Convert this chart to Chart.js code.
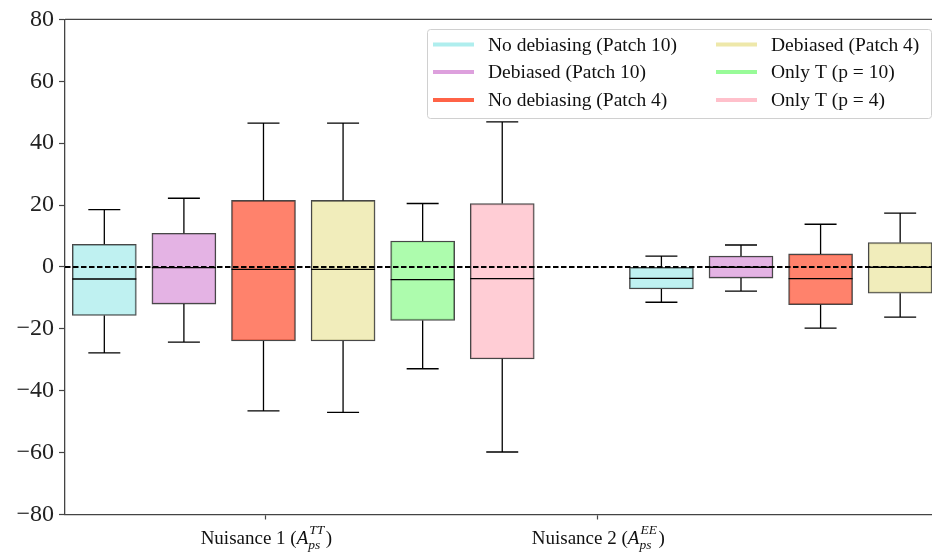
<!DOCTYPE html>
<html>
<head>
<meta charset="utf-8">
<script src="https://cdn.jsdelivr.net/npm/chart.js@4.4.1/dist/chart.umd.min.js"></script>
<style>
  html, body { margin: 0; padding: 0; background: #fff; overflow: hidden; }
  #wrap { width: 932px; height: 557px; position: relative; }
</style>
</head>
<body>
<div id="wrap"><canvas id="boxChart"></canvas></div>
<script>
// Категории по оси X и их позиции
const categories = ['Nuisance 1', 'Nuisance 2'];
const categorySymbols = ['TT', 'EE'];
const xTickPositions = [2.03, 6.2];

// Серии (по одной коробке в каждой группе)
const seriesNames = [
    'No debiasing (Patch 10)',
    'Debiased (Patch 10)',
    'No debiasing (Patch 4)',
    'Debiased (Patch 4)',
    'Only T (p = 10)',
    'Only T (p = 4)'
];
const seriesColors = [
    [175, 238, 238],
    [221, 160, 221],
    [255, 99, 71],
    [238, 232, 170],
    [152, 251, 152],
    [255, 192, 203]
];

// Позиции коробок: [группа 1, группа 2]
const boxPositions = [[0, 7], [1, 8], [2, 9], [3, 10], [4, 11], [5, 12]];

// Статистики коробок: [группа 1, группа 2]
const whiskerLow = [[-27.8, -11.4], [-24.3, -7.8], [-46.5, -19.8], [-47.0, -16.2], [-32.9, null], [-59.8, null]];
const quartile1 = [[-15.7, -7.1], [-12.0, -3.6], [-23.9, -12.2], [-23.9, -8.5], [-17.3, null], [-29.7, null]];
const medians = [[-3.9, -3.7], [-0.2, -0.1], [-0.8, -3.8], [-0.8, -0.1], [-4.1, null], [-3.8, null]];
const quartile3 = [[7.3, -0.1], [10.9, 3.5], [21.5, 4.2], [21.5, 7.9], [8.4, null], [20.5, null]];
const whiskerHigh = [[18.5, 3.5], [22.2, 7.1], [46.5, 13.8], [46.5, 17.4], [20.5, null], [46.9, null]];

const yTicks = [-80, -60, -40, -20, 0, 20, 40, 60, 80];

const SERIF = '"Liberation Serif", "DejaVu Serif", serif';
const EDGE = 'rgba(0, 0, 0, 0.72)';

// Коробки — «плавающие» столбцы от Q1 до Q3
const datasets = seriesNames.map((name, s) => {
    const c = seriesColors[s];
    return {
        label: name,
        data: boxPositions[s].map((pos, g) => ({
            x: pos,
            y: quartile1[s][g] === null ? null : [quartile1[s][g], quartile3[s][g]]
        })),
        backgroundColor: `rgba(${c[0]}, ${c[1]}, ${c[2]}, 0.8)`,
        borderColor: EDGE,
        borderWidth: 1.3,
        borderSkipped: false,
        barThickness: 64,
        grouped: false
    };
});

// Усы, медианы, пунктир на нуле, верхняя рамка
const boxExtras = {
    id: 'boxExtras',
    afterDatasetsDraw(chart) {
        const { ctx, chartArea, scales } = chart;
        const xs = scales.x, ys = scales.y;
        ctx.save();
        ctx.beginPath();
        ctx.rect(chartArea.left, chartArea.top, chartArea.right - chartArea.left, chartArea.bottom - chartArea.top);
        ctx.clip();

        ctx.strokeStyle = '#000';
        ctx.lineWidth = 1.3;
        seriesNames.forEach((_, s) => {
            boxPositions[s].forEach((pos, g) => {
                if (quartile1[s][g] === null) return;
                const px = xs.getPixelForValue(pos);
                const yLo = ys.getPixelForValue(whiskerLow[s][g]);
                const yQ1 = ys.getPixelForValue(quartile1[s][g]);
                const yMed = ys.getPixelForValue(medians[s][g]);
                const yQ3 = ys.getPixelForValue(quartile3[s][g]);
                const yHi = ys.getPixelForValue(whiskerHigh[s][g]);
                ctx.beginPath();
                ctx.moveTo(px, yQ1); ctx.lineTo(px, yLo);
                ctx.moveTo(px, yQ3); ctx.lineTo(px, yHi);
                ctx.moveTo(px - 16, yLo); ctx.lineTo(px + 16, yLo);
                ctx.moveTo(px - 16, yHi); ctx.lineTo(px + 16, yHi);
                ctx.moveTo(px - 32, yMed); ctx.lineTo(px + 32, yMed);
                ctx.stroke();
            });
        });

        // Пунктир на нуле
        const y0 = ys.getPixelForValue(0);
        ctx.setLineDash([5.5, 2.5]);
        ctx.lineWidth = 2;
        ctx.beginPath();
        ctx.moveTo(chartArea.left, y0);
        ctx.lineTo(chartArea.right, y0);
        ctx.stroke();
        ctx.restore();

        // Верхняя рамка
        ctx.save();
        ctx.strokeStyle = '#444';
        ctx.lineWidth = 1.3;
        ctx.beginPath();
        ctx.moveTo(chartArea.left, chartArea.top);
        ctx.lineTo(chartArea.right, chartArea.top);
        ctx.stroke();
        ctx.restore();
    },
    afterDraw(chart) {
        const { ctx, scales } = chart;
        const xs = scales.x;

        // Подписи оси X с индексами
        ctx.save();
        ctx.fillStyle = '#111';
        ctx.textBaseline = 'alphabetic';
        ctx.textAlign = 'left';
        const base = 544;
        categories.forEach((cat, i) => {
            const main = cat + ' (';
            ctx.font = `19px ${SERIF}`;
            const wMain = ctx.measureText(main).width;
            ctx.font = `italic 19px ${SERIF}`;
            const wA = ctx.measureText('A').width;
            ctx.font = `italic 13.5px ${SERIF}`;
            const wSup = ctx.measureText(categorySymbols[i]).width;
            const wSub = ctx.measureText('ps').width;
            const wScript = Math.max(wSup, wSub) + 1.5;
            ctx.font = `19px ${SERIF}`;
            const wClose = ctx.measureText(')').width;
            let x = xs.getPixelForValue(xTickPositions[i]) - (wMain + wA + wScript + wClose) / 2;
            ctx.font = `19px ${SERIF}`;
            ctx.fillText(main, x, base);
            x += wMain;
            ctx.font = `italic 19px ${SERIF}`;
            ctx.fillText('A', x, base);
            x += wA + 1;
            ctx.font = `italic 13.5px ${SERIF}`;
            ctx.fillText(categorySymbols[i], x, base - 10);
            ctx.fillText('ps', x - 1, base + 5);
            x += wScript;
            ctx.font = `19px ${SERIF}`;
            ctx.fillText(')', x, base);
        });
        ctx.restore();

        // Легенда (два столбца)
        ctx.save();
        const lx = 427.5, ly = 29.5, lw = 504, lh = 89;
        ctx.fillStyle = 'rgba(255,255,255,0.8)';
        ctx.strokeStyle = '#d0d0d0';
        ctx.lineWidth = 1;
        ctx.beginPath();
        ctx.roundRect(lx, ly, lw, lh, 3);
        ctx.fill();
        ctx.stroke();
        const rowsY = [44.5, 72, 100];
        const colsX = [433, 716];
        ctx.font = `19.5px ${SERIF}`;
        ctx.textBaseline = 'middle';
        ctx.textAlign = 'left';
        seriesNames.forEach((name, s) => {
            const col = Math.floor(s / 3), row = s % 3;
            const c = seriesColors[s];
            ctx.strokeStyle = `rgb(${c[0]}, ${c[1]}, ${c[2]})`;
            ctx.lineWidth = 4;
            ctx.beginPath();
            ctx.moveTo(colsX[col], rowsY[row]);
            ctx.lineTo(colsX[col] + 41, rowsY[row]);
            ctx.stroke();
            ctx.fillStyle = '#111';
            ctx.fillText(name, colsX[col] + 55, rowsY[row] + 1);
        });
        ctx.restore();
    }
};

const ctx = document.getElementById('boxChart').getContext('2d');
new Chart(ctx, {
    type: 'bar',
    data: { datasets: datasets },
    options: {
        responsive: true,
        maintainAspectRatio: false,
        animation: false,
        layout: { padding: { top: 19, right: 0, left: 0, bottom: 0 } },
        plugins: {
            legend: { display: false },
            tooltip: { enabled: false }
        },
        scales: {
            x: {
                type: 'linear',
                min: -0.494,
                max: 10.4,
                offset: false,
                afterBuildTicks: scale => {
                    scale.ticks = xTickPositions.map(v => ({ value: v }));
                },
                afterFit: scale => { scale.height = 42.5; },
                ticks: {
                    autoSkip: false,
                    callback: () => '',
                    font: { size: 1 }
                },
                grid: {
                    offset: false,
                    drawOnChartArea: false,
                    drawTicks: true,
                    tickLength: 5,
                    tickWidth: 1.2,
                    tickColor: '#444'
                },
                border: { display: true, color: '#444', width: 1.3 }
            },
            y: {
                min: -80,
                max: 80,
                afterBuildTicks: scale => {
                    scale.ticks = yTicks.map(v => ({ value: v }));
                },
                afterFit: scale => { scale.width = 65; },
                ticks: {
                    padding: 5,
                    color: '#222',
                    font: { family: SERIF, size: 24 },
                    callback: v => (v < 0 ? '\u2212' + Math.abs(v) : String(v))
                },
                grid: {
                    drawOnChartArea: false,
                    drawTicks: true,
                    tickLength: 6,
                    tickWidth: 1.2,
                    tickColor: '#444'
                },
                border: { display: true, color: '#444', width: 1.3 }
            }
        }
    },
    plugins: [boxExtras]
});
</script>
</body>
</html>
